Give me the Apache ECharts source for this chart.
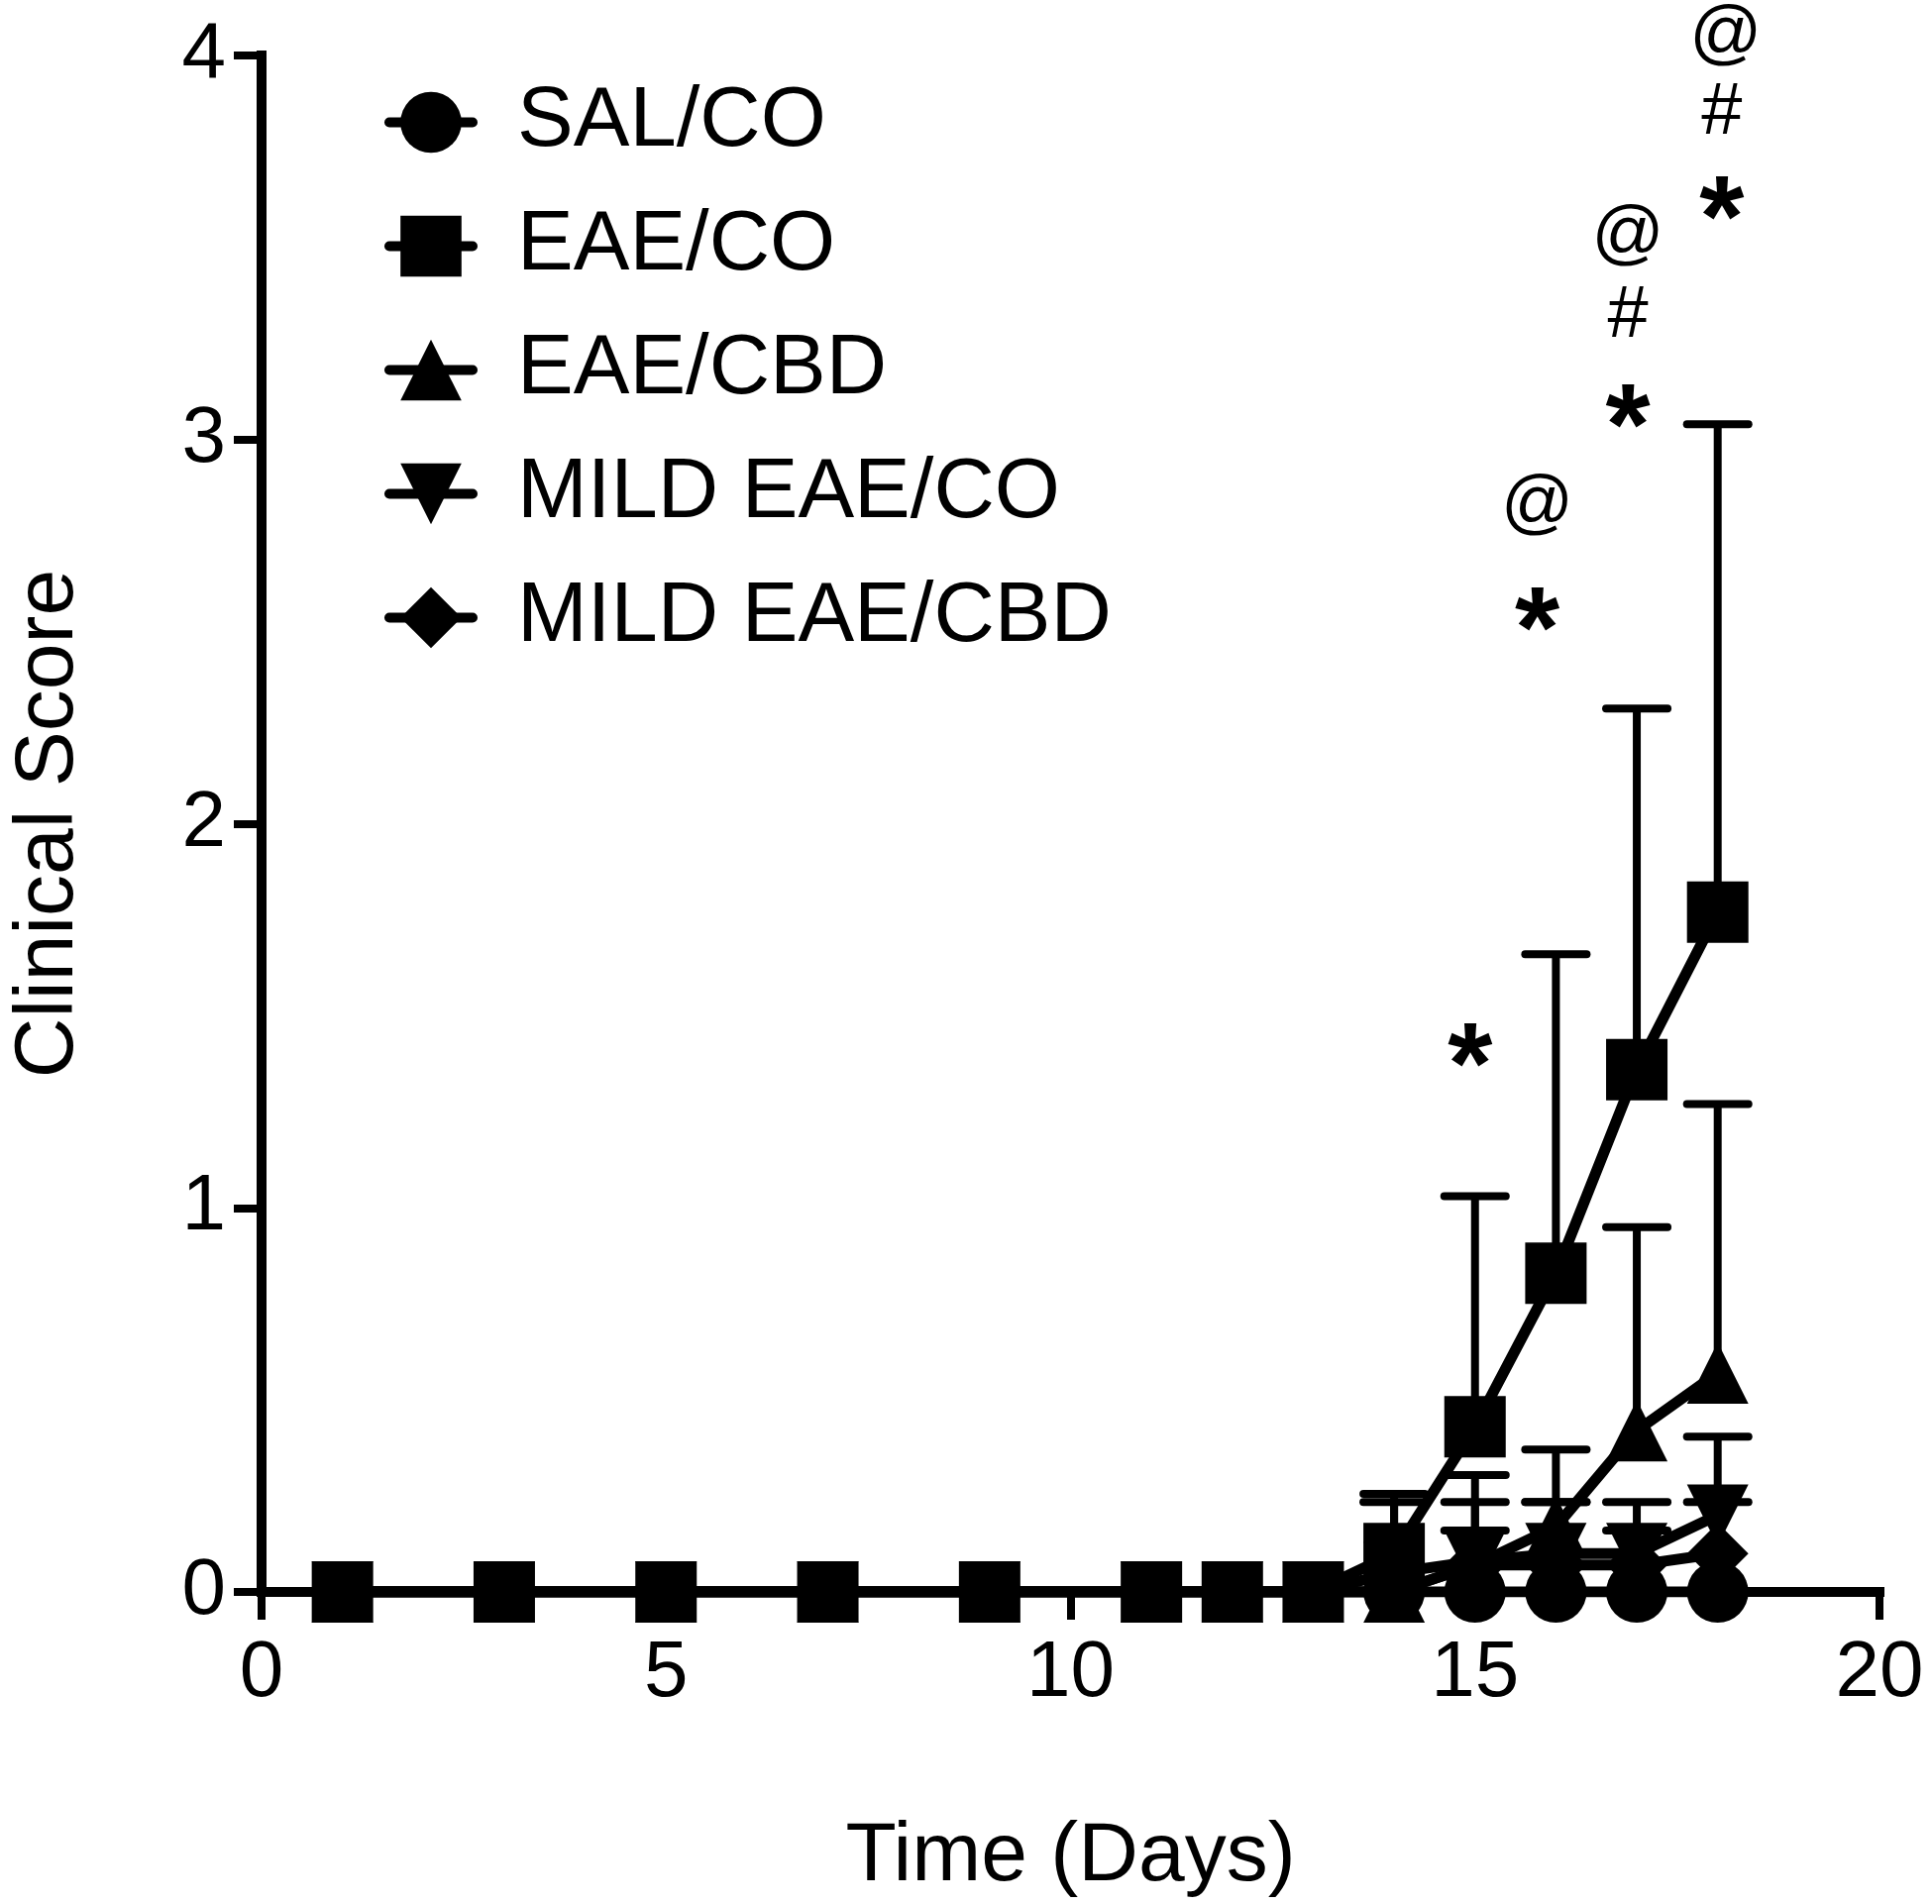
<!DOCTYPE html>
<html><head><meta charset="utf-8">
<script src="https://cdn.jsdelivr.net/npm/echarts@6/dist/echarts.min.js"></script>
<style>html,body{margin:0;padding:0;background:#fff}#c{width:1950px;height:1922px}</style>
</head><body><div id="c"></div>
<script>
const days = [1, 3, 5, 7, 9, 11, 12, 13, 14, 15, 16, 17, 18];
const seriesNames = ['SAL/CO', 'EAE/CO', 'EAE/CBD', 'MILD EAE/CO', 'MILD EAE/CBD'];
const salCoMean    = [0, 0, 0, 0, 0, 0, 0, 0, 0, 0, 0, 0, 0];
const salCoUpper   = [0, 0, 0, 0, 0, 0, 0, 0, 0, 0, 0, 0, 0];
const eaeCoMean    = [0, 0, 0, 0, 0, 0, 0, 0, 0.1, 0.43, 0.83, 1.36, 1.77];
const eaeCoUpper   = [0, 0, 0, 0, 0, 0, 0, 0, 0.255, 1.03, 1.66, 2.30, 3.04];
const eaeCbdMean   = [0, 0, 0, 0, 0, 0, 0, 0, 0, 0.07, 0.17, 0.42, 0.57];
const eaeCbdUpper  = [0, 0, 0, 0, 0, 0, 0, 0, 0, 0.234, 0.371, 0.95, 1.27];
const mildCoMean   = [0, 0, 0, 0, 0, 0, 0, 0, 0.05, 0.08, 0.1, 0.1, 0.2];
const mildCoUpper  = [0, 0, 0, 0, 0, 0, 0, 0, 0.234, 0.304, 0.234, 0.234, 0.404];
const mildCbdMean  = [0, 0, 0, 0, 0, 0, 0, 0, 0, 0.07, 0.07, 0.07, 0.1];
const mildCbdUpper = [0, 0, 0, 0, 0, 0, 0, 0, 0, 0.16, 0.234, 0.16, 0.234];
const xTicks = [0, 5, 10, 15, 20];
const yTicks = [0, 1, 2, 3, 4];
const sigX    = [14.94, 15.77, 15.77, 16.89, 16.89, 16.89, 18.05, 18.05, 18.1];
const sigY    = [1.425, 2.56, 2.83, 3.09, 3.32, 3.53, 3.63, 3.85, 4.05];
const sigText = ['*', '*', '@', '*', '#', '@', '*', '#', '@'];

const means = [salCoMean, eaeCoMean, eaeCbdMean, mildCoMean, mildCbdMean];
const uppers = [salCoUpper, eaeCoUpper, eaeCbdUpper, mildCoUpper, mildCbdUpper];
const symbols = ['circle', 'rect', 'triangle', 'triangle', 'diamond'];
const rotations = [0, 0, 0, 180, 0];
const FONT = '"Liberation Sans", Arial, Helvetica, sans-serif';

const chart = echarts.init(document.getElementById('c'), null, {renderer: 'canvas'});

function renderErr(params, api) {
  const x = api.value(0), m = api.value(1), u = api.value(2);
  const p0 = api.coord([x, m]), p1 = api.coord([x, u]);
  const hw = 31;
  return {type: 'group', children: [
    {type: 'line', shape: {x1: p0[0], y1: p0[1], x2: p1[0], y2: p1[1]}, style: {stroke: '#000', lineWidth: 8}},
    {type: 'line', shape: {x1: p1[0] - hw, y1: p1[1], x2: p1[0] + hw, y2: p1[1]}, style: {stroke: '#000', lineWidth: 8, lineCap: 'round'}}
  ]};
}

const series = [];
seriesNames.forEach((name, k) => {
  series.push({
    name: 'err ' + name, type: 'custom', z: 1, clip: false,
    encode: {x: 0, y: [1, 2]},
    renderItem: renderErr,
    data: days.map((d, i) => [d, means[k][i], uppers[k][i]]).filter(r => r[2] > r[1])
  });
});
seriesNames.forEach((name, k) => {
  series.push({
    name: name, type: 'line', z: 2 + k,
    symbol: symbols[k], symbolRotate: rotations[k], symbolSize: 62, showAllSymbol: true,
    lineStyle: {color: '#000', width: 11},
    itemStyle: {color: '#000'},
    emphasis: {disabled: true},
    data: days.map((d, i) => [d, means[k][i]])
  });
});
series.push({
  name: 'sig', type: 'custom', z: 10, clip: false,
  renderItem: function (params, api) {
    const p = api.coord([api.value(0), api.value(1)]);
    const t = sigText[params.dataIndex];
    const star = t === '*';
    const size = star ? 'bold 116px ' : (t === '@' ? '72px ' : '74px ');
    return {type: 'text', x: p[0], y: p[1] + (star ? 28 : 0), style: {
      text: t, fill: '#000', align: 'center', verticalAlign: 'middle',
      font: size + FONT
    }};
  },
  data: sigX.map((x, i) => [x, sigY[i]])
});

chart.setOption({
  animation: false,
  backgroundColor: '#fff',
  grid: {left: 257, right: 53, top: 56, bottom: 311, containLabel: false},
  legend: {
    data: seriesNames, orient: 'vertical', left: 383, top: 76,
    itemWidth: 84, itemHeight: 77, itemGap: 40,
    selectedMode: false,
    lineStyle: {width: 10, cap: 'round'},
    textStyle: {fontSize: 85, color: '#000', fontFamily: FONT, padding: [0, 0, 0, 40]}
  },
  xAxis: {
    type: 'value', min: xTicks[0], max: xTicks[xTicks.length - 1], interval: 5,
    name: 'Time (Days)', nameLocation: 'middle', nameGap: 226,
    nameTextStyle: {fontSize: 84, color: '#000', fontFamily: FONT},
    axisLine: {show: true, onZero: false, lineStyle: {color: '#000', width: 10, cap: 'square'}},
    axisTick: {show: true, length: 28, lineStyle: {color: '#000', width: 8}},
    axisLabel: {fontSize: 80, color: '#000', fontFamily: FONT, margin: 43},
    splitLine: {show: false}
  },
  yAxis: {
    type: 'value', min: yTicks[0], max: yTicks[yTicks.length - 1], interval: 1,
    name: 'Clinical Score', nameLocation: 'middle', nameGap: 172,
    nameTextStyle: {fontSize: 84, color: '#000', fontFamily: FONT},
    axisLine: {show: true, lineStyle: {color: '#000', width: 10, cap: 'square'}},
    axisTick: {show: true, length: 28, lineStyle: {color: '#000', width: 8}},
    axisLabel: {fontSize: 80, color: '#000', fontFamily: FONT, margin: 36},
    splitLine: {show: false}
  },
  series: series
});
</script></body></html>
